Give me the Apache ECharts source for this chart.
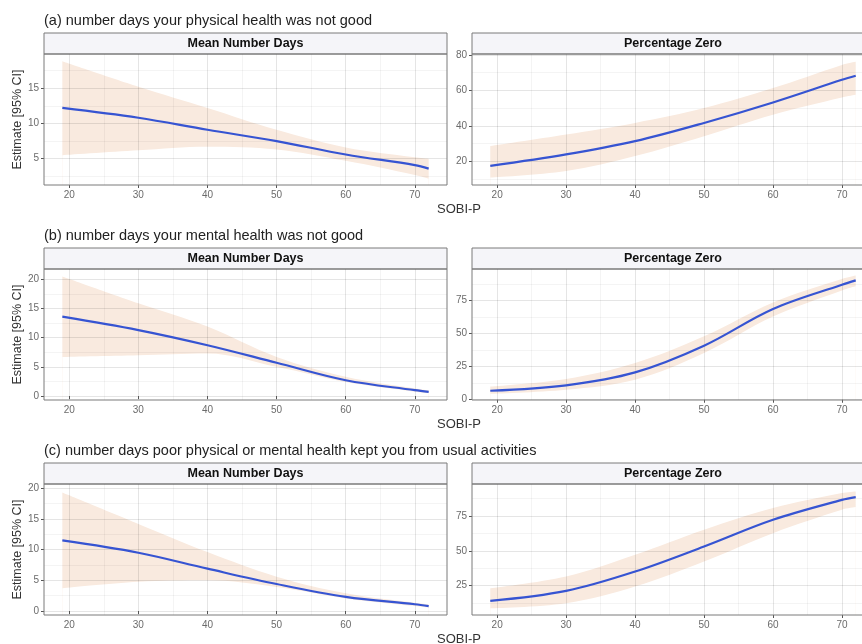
<!DOCTYPE html>
<html>
<head>
<meta charset="utf-8">
<script src="https://cdn.jsdelivr.net/npm/echarts@6/dist/echarts.min.js"></script>
<style>
html, body { margin: 0; padding: 0; background: #fff; }
#chart { width: 862px; height: 644px; }
</style>
</head>
<body>
<div id="chart"></div>
<script>
// SOBI-P values where the curves were read
const sobiP = [19, 30, 40, 50, 60, 70, 72]
const xTicks = [20, 30, 40, 50, 60, 70]
const xMinor = [25, 35, 45, 55, 65]

const rowTitles = [
  '(a) number days your physical health was not good',
  '(b) number days your mental health was not good',
  '(c) number days poor physical or mental health kept you from usual activities',
]
const stripLabels = ['Mean Number Days', 'Percentage Zero']

// (a) physical health
const aMeanEst = [12.2, 10.8, 9.1, 7.5, 5.6, 4.1, 3.6]
const aMeanLow = [5.5, 6.2, 6.7, 6.3, 4.7, 2.7, 2.2]
const aMeanHigh = [18.8, 15.2, 12.2, 9.1, 6.6, 5.2, 5.0]
const aZeroEst = [17.3, 23.8, 31.3, 41.6, 53.2, 66.0, 68.3]
const aZeroLow = [10.7, 14.4, 22.9, 34.1, 46.3, 56.0, 57.5]
const aZeroHigh = [28.5, 35.0, 41.6, 50.0, 61.3, 74.4, 76.2]

// (b) mental health
const bMeanEst = [13.6, 11.3, 8.7, 5.7, 2.7, 1.0, 0.7]
const bMeanLow = [6.7, 7.0, 7.3, 5.0, 2.4, 0.75, 0.5]
const bMeanHigh = [20.5, 15.9, 11.9, 6.7, 3.3, 1.3, 1.0]
const bZeroEst = [6.8, 10.9, 20.7, 40.9, 68.7, 87.1, 90.4]
const bZeroLow = [4.5, 7.6, 15.2, 35.4, 63.0, 82.8, 85.9]
const bZeroHigh = [10.0, 15.7, 27.8, 48.0, 73.7, 91.4, 94.0]

// (c) usual activities
const cMeanEst = [11.5, 9.5, 6.9, 4.4, 2.3, 1.1, 0.8]
const cMeanLow = [3.7, 4.75, 5.0, 3.9, 2.05, 0.8, 0.55]
const cMeanHigh = [19.3, 14.2, 9.6, 5.6, 2.9, 1.35, 1.1]
const cZeroEst = [14.0, 21.2, 35.1, 53.1, 72.3, 86.6, 88.6]
const cZeroLow = [8.7, 12.3, 24.3, 42.3, 62.7, 79.5, 81.4]
const cZeroHigh = [23.1, 31.5, 47.1, 65.1, 80.7, 91.5, 92.6]

// y tick labels per panel
const aMeanTicks = [5, 10, 15]
const aZeroTicks = [20, 40, 60, 80]
const bMeanTicks = [0, 5, 10, 15, 20]
const bZeroTicks = [0, 25, 50, 75]
const cMeanTicks = [0, 5, 10, 15, 20]
const cZeroTicks = [25, 50, 75]

const panels = [
  { est: aMeanEst, low: aMeanLow, high: aMeanHigh, ticks: aMeanTicks, minor: [2.5, 7.5, 12.5, 17.5], min: 1.28, max: 19.83 },
  { est: aZeroEst, low: aZeroLow, high: aZeroHigh, ticks: aZeroTicks, minor: [10, 30, 50, 70], min: 6.5, max: 80.6 },
  { est: bMeanEst, low: bMeanLow, high: bMeanHigh, ticks: bMeanTicks, minor: [2.5, 7.5, 12.5, 17.5], min: -0.68, max: 21.77 },
  { est: bZeroEst, low: bZeroLow, high: bZeroHigh, ticks: bZeroTicks, minor: [12.5, 37.5, 62.5, 87.5], min: -0.2, max: 99 },
  { est: cMeanEst, low: cMeanLow, high: cMeanHigh, ticks: cMeanTicks, minor: [2.5, 7.5, 12.5, 17.5], min: -0.65, max: 20.7 },
  { est: cZeroEst, low: cZeroLow, high: cZeroHigh, ticks: cZeroTicks, minor: [12.5, 37.5, 62.5, 87.5], min: 3.9, max: 98 },
]

const FONT = 'Liberation Sans, Arial, Helvetica, sans-serif'
const RIBBON = '#f9eadf'
const xMin = 16.35
const xMax = 74.65
const rowTop = [54, 269, 484]
const plotH = 131
const stripH = 21
const colLeft = [44, 472]
const colW = [403, 402]

const grids = []
const xAxes = []
const yAxes = []
const series = []
const graphics = []
const titles = []

panels.forEach((p, i) => {
  const row = Math.floor(i / 2)
  const col = i % 2
  grids.push({
    left: colLeft[col], top: rowTop[row], width: colW[col], height: plotH, z: 6,
    outerBoundsMode: 'none', containLabel: false,
    show: true, borderColor: '#7a7a7a', borderWidth: 1, backgroundColor: 'transparent',
  })
  // minor grid lines (drawn above the ribbon, like the see-through ribbon in the original)
  xAxes.push({
    type: 'value', gridIndex: i, min: xMin, max: xMax, position: 'top', z: 3,
    axisLine: { show: false },
    axisTick: { show: false, customValues: xMinor },
    axisLabel: { show: false, customValues: xMinor },
    splitLine: { show: true, lineStyle: { color: 'rgba(0,0,0,0.045)', width: 1 } },
  })
  // major x axis
  xAxes.push({
    type: 'value', gridIndex: i, min: xMin, max: xMax, position: 'bottom', z: 3,
    axisLine: { show: false },
    axisTick: { show: true, customValues: xTicks, length: 3, lineStyle: { color: '#555' } },
    axisLabel: { customValues: xTicks, color: '#6b6b6b', fontSize: 10, margin: 5, fontFamily: FONT },
    splitLine: { show: true, lineStyle: { color: 'rgba(0,0,0,0.1)', width: 1 } },
  })
  yAxes.push({
    type: 'value', gridIndex: i, min: p.min, max: p.max, position: 'right', z: 3,
    axisLine: { show: false },
    axisTick: { show: false, customValues: p.minor },
    axisLabel: { show: false, customValues: p.minor },
    splitLine: { show: true, lineStyle: { color: 'rgba(0,0,0,0.045)', width: 1 } },
  })
  yAxes.push({
    type: 'value', gridIndex: i, min: p.min, max: p.max, position: 'left', z: 3,
    name: col === 0 ? 'Estimate [95% CI]' : '',
    nameLocation: 'middle', nameGap: 18,
    nameTextStyle: { fontSize: 12.5, color: '#333', fontFamily: FONT },
    axisLine: { show: false },
    axisTick: { show: true, customValues: p.ticks, length: 3, lineStyle: { color: '#555' } },
    axisLabel: { customValues: p.ticks, color: '#6b6b6b', fontSize: 10, margin: 5, fontFamily: FONT },
    splitLine: { show: true, lineStyle: { color: 'rgba(0,0,0,0.1)', width: 1 } },
  })

  const xi = i * 2 + 1
  const yi = i * 2 + 1
  // ribbon: upper bound filled down, lower bound filled white on top of it
  series.push({
    type: 'line', xAxisIndex: xi, yAxisIndex: yi, z: 1,
    data: sobiP.map((x, k) => [x, p.high[k]]), smooth: 0.35, showSymbol: false,
    lineStyle: { width: 0 }, areaStyle: { color: RIBBON, opacity: 1, origin: 'start' }, silent: true,
  })
  series.push({
    type: 'line', xAxisIndex: xi, yAxisIndex: yi, z: 2,
    data: sobiP.map((x, k) => [x, p.low[k]]), smooth: 0.35, showSymbol: false,
    lineStyle: { width: 0 }, areaStyle: { color: '#ffffff', opacity: 1, origin: 'start' }, silent: true,
  })
  series.push({
    type: 'line', xAxisIndex: xi, yAxisIndex: yi, z: 5,
    data: sobiP.map((x, k) => [x, p.est[k]]), smooth: 0.35, showSymbol: false,
    lineStyle: { color: '#3654d2', width: 2.2 },
  })

  // facet strip
  graphics.push({
    type: 'rect', shape: { x: colLeft[col], y: rowTop[row] - stripH, width: colW[col], height: stripH },
    style: { fill: '#f5f5f9', stroke: '#7a7a7a', lineWidth: 1 },
  })
  graphics.push({
    type: 'text', x: colLeft[col] + colW[col] / 2, y: rowTop[row] - stripH / 2,
    style: { text: stripLabels[col], fill: '#111', font: 'bold 12.5px ' + FONT, align: 'center', verticalAlign: 'middle' },
  })
})

rowTitles.forEach((t, r) => {
  titles.push({
    text: t, left: 44, top: rowTop[r] - stripH - 20, padding: 0,
    textStyle: { fontSize: 14.5, fontWeight: 'normal', color: '#222', fontFamily: FONT },
  })
  graphics.push({
    type: 'text', x: 459, y: rowTop[r] + plotH + 24,
    style: { text: 'SOBI-P', fill: '#333', font: '13px ' + FONT, align: 'center', verticalAlign: 'middle' },
  })
})

const chart = echarts.init(document.getElementById('chart'))
chart.setOption({
  animation: false,
  backgroundColor: '#fff',
  textStyle: { fontFamily: FONT },
  title: titles,
  grid: grids,
  xAxis: xAxes,
  yAxis: yAxes,
  series: series,
  graphic: graphics,
})
</script>
</body>
</html>
